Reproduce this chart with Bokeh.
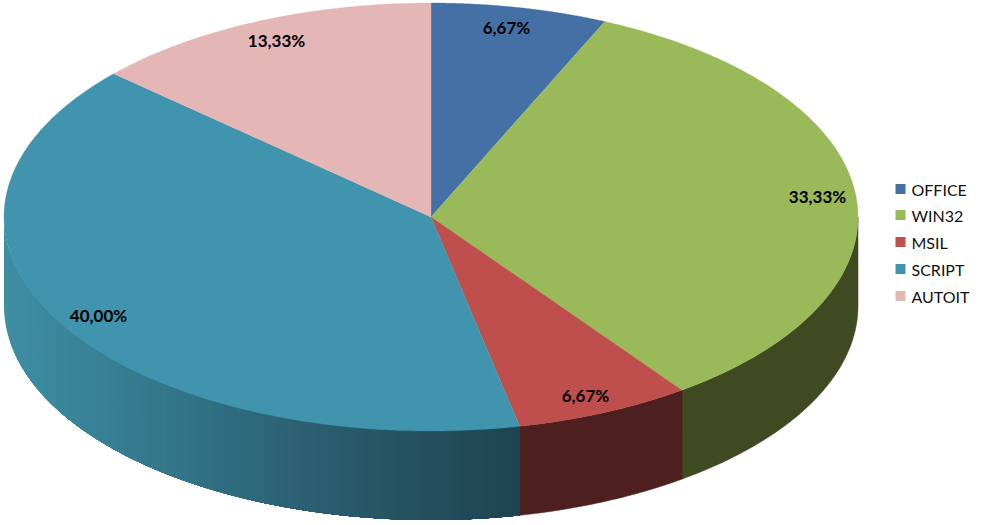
import numpy as np
from bokeh.plotting import figure
from bokeh.embed import file_html
from bokeh.resources import INLINE
from bokeh.core.properties import value

categories = ["OFFICE", "WIN32", "MSIL", "SCRIPT", "AUTOIT"]
shares = [6.67, 33.33, 6.67, 40.00, 13.33]
labels = ["6,67%", "33,33%", "6,67%", "40,00%", "13,33%"]
top_colors = ["#4570A5", "#9ABA59", "#BE4F4C", "#4094AE", "#E4B6B6"]
side_colors = ["#2A4365", "#3F4A22", "#4D1F1F", None, "#8A6E6E"]

# script wall shading, horizontal position -> colour
grad_x = [4, 100, 200, 300, 400, 520]
grad_rgb = [(62, 142, 164), (56, 128, 148), (49, 112, 132), (43, 96, 113), (37, 82, 97), (30, 67, 80)]

W, H = 984, 525
CX, CY, RX, RY, DEPTH = 430.5, 216.5, 427, 214, 89
LABEL_X = [506, 817, 585, 98, 276]
LABEL_Y = [27, 196, 395, 315, 40]
LEG_Y = [188.5, 214.5, 241.5, 268.5, 295.5]

p = figure(width=W, height=H, x_range=(0, W), y_range=(H, 0), output_backend="svg",
           toolbar_location=None, min_border=0,
           outline_line_color=None, background_fill_color="white", border_fill_color="white")
p.axis.visible = False
p.grid.visible = False

total = sum(shares)
edges = np.concatenate([[0], np.cumsum(shares) / total * 2 * np.pi])


def rim(t):
    return CX + RX * np.sin(t), CY - RY * np.cos(t)


# side walls (front half only)
for i in range(len(shares)):
    a, b = max(edges[i], np.pi / 2), min(edges[i + 1], 3 * np.pi / 2)
    if b <= a:
        continue
    if side_colors[i] is not None:
        t = np.linspace(a, b, 80)
        x, y = rim(t)
        p.patch(np.r_[x, x[::-1]], np.r_[y, y[::-1] + DEPTH], fill_color=side_colors[i],
                line_color=side_colors[i], line_width=0.5)
    else:
        # vertical bands, painted left to right, each one reaching the wall's right end
        band_x = np.linspace(rim(b)[0], rim(a)[0], 90)[:-1]
        xs, ys, cols = [], [], []
        for bx in band_x:
            t0 = np.pi + np.arcsin(np.clip((CX - bx) / RX, -1, 1))
            t = np.linspace(a, t0, 90)
            x, y = rim(t)
            xs.append(list(np.r_[x, x[::-1]]))
            ys.append(list(np.r_[y, y[::-1] + DEPTH]))
            rgb = [int(round(np.interp(bx, grad_x, [c[k] for c in grad_rgb]))) for k in range(3)]
            cols.append("#%02x%02x%02x" % tuple(rgb))
        p.patches(xs, ys, fill_color=cols, line_color=None)

# top face
for i in range(len(shares)):
    t = np.linspace(edges[i], edges[i + 1], 160)
    x, y = rim(t)
    p.patch(np.r_[CX, x], np.r_[CY, y], fill_color=top_colors[i], line_color=top_colors[i], line_width=0.3)

p.text(LABEL_X, LABEL_Y, text=labels, text_font=value("Lato"), text_font_style="bold",
       text_font_size="17px", text_color="black", text_align="center", text_baseline="middle")

# legend
p.rect([900] * 5, LEG_Y, width=10, height=10, fill_color=top_colors, line_color=None)
p.text([911] * 5, LEG_Y, text=categories, text_font=value("Lato"), text_font_size="16px",
       text_color="#111111", text_align="left", text_baseline="middle")

open("out.html", "w").write(file_html(p, INLINE))
